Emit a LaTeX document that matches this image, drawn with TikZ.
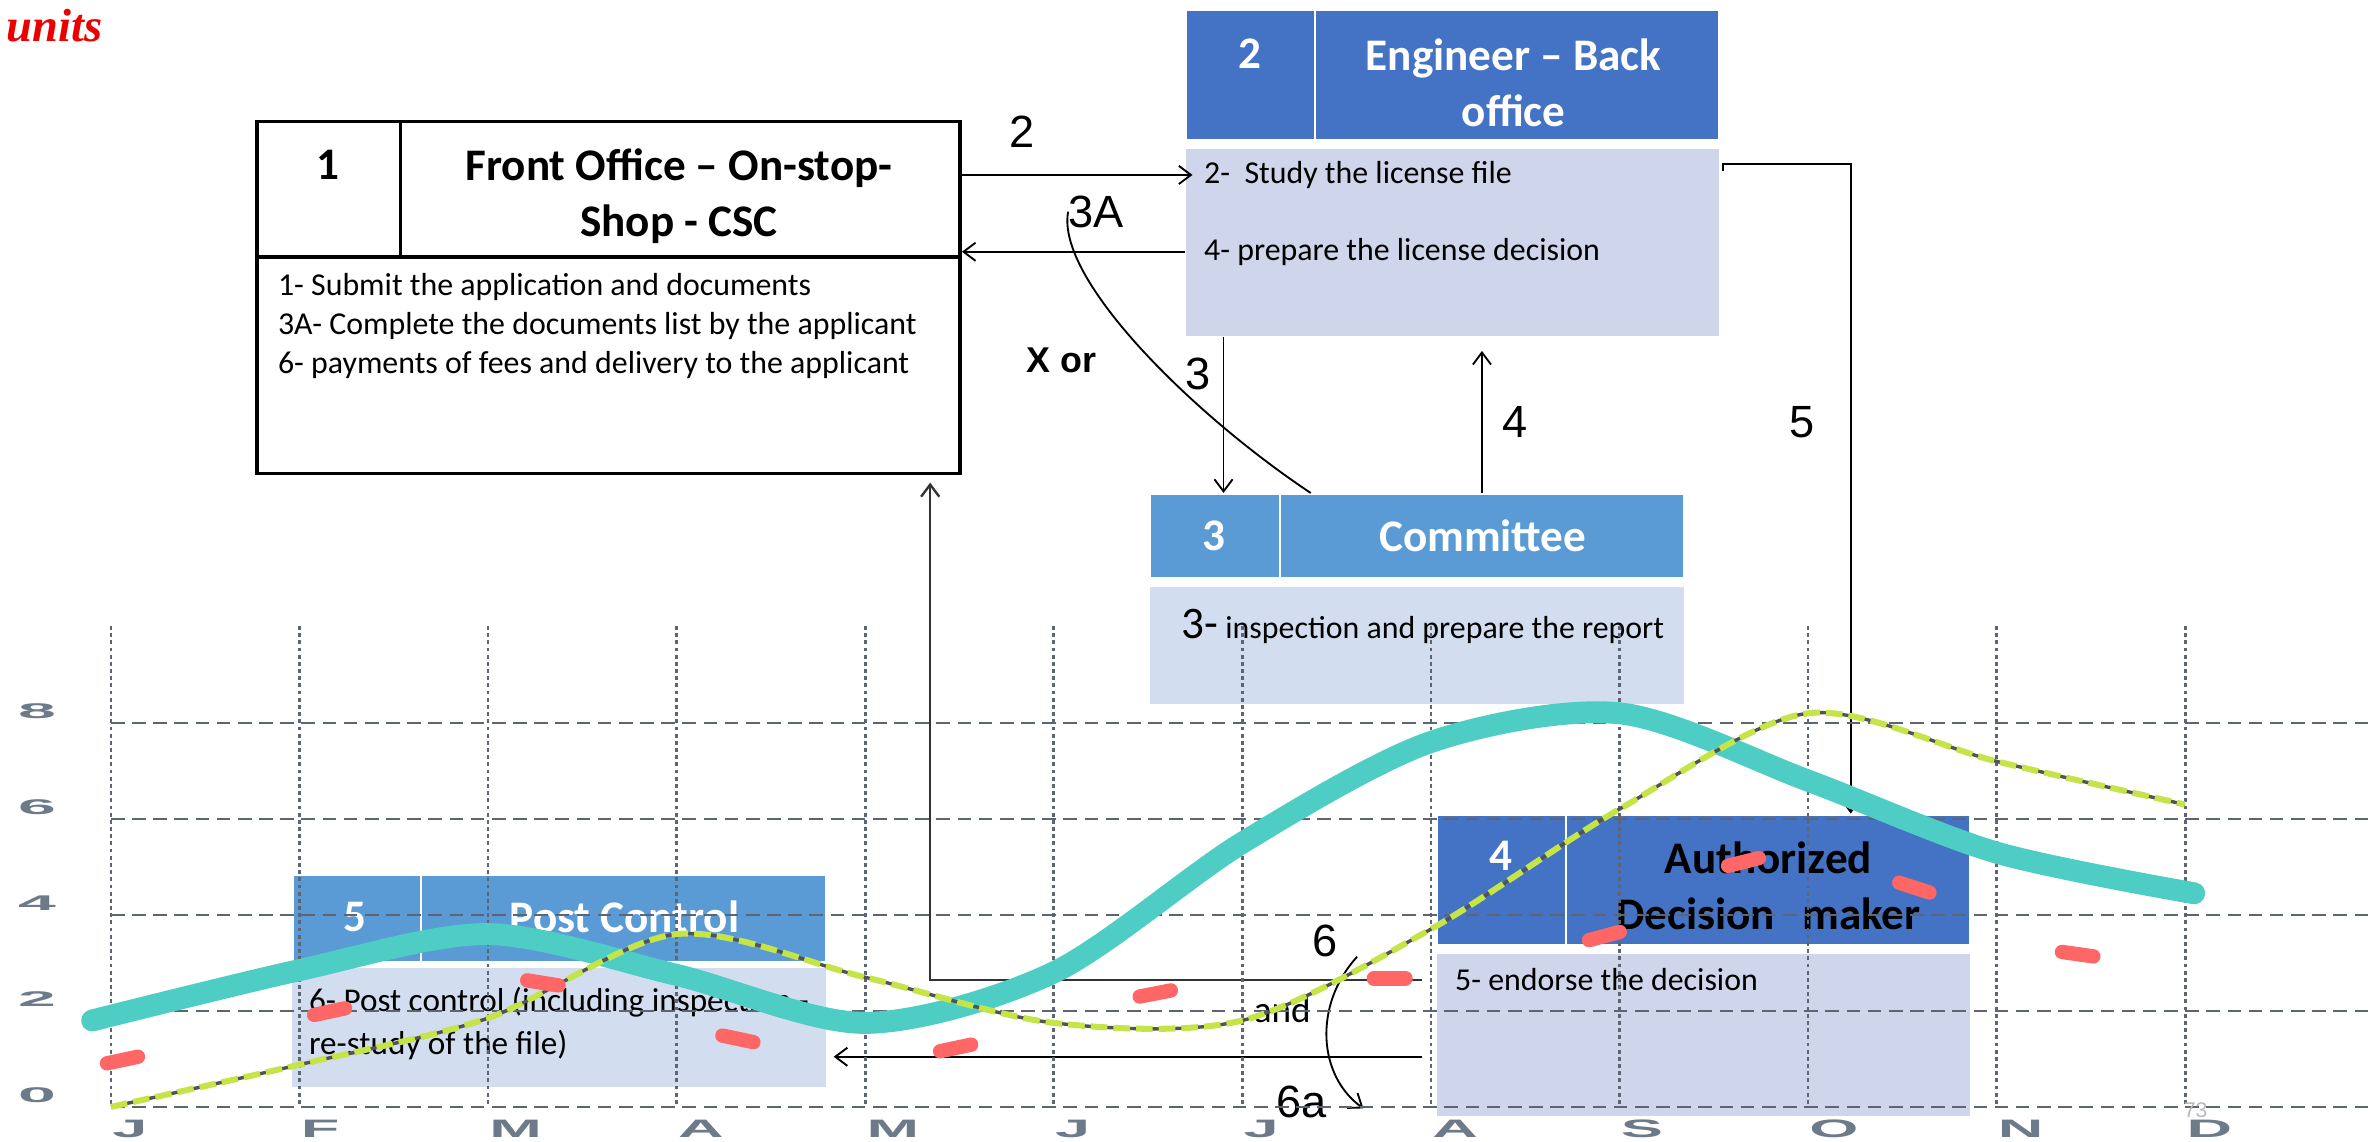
\documentclass[tikz,border=0pt]{standalone}
\usepackage{fontspec}
\setmainfont{Carlito}
\newfontfamily\arialfont{Liberation Sans}
\newfontfamily\timesfont{Liberation Serif}
\usepackage{tikz}
\usetikzlibrary{fit, arrows.meta}
\definecolor{hdark}{RGB}{68, 114, 196}
\definecolor{hmid}{RGB}{91, 155, 213}
\definecolor{bodylav}{RGB}{207, 213, 234}
\definecolor{paleblue}{RGB}{210, 222, 239}
\definecolor{tealband}{RGB}{78, 205, 196}
\definecolor{limeline}{RGB}{196, 228, 72}
\definecolor{gridgrey}{RGB}{92, 101, 113}
\definecolor{axisgrey}{RGB}{108, 122, 138}
\definecolor{redmark}{RGB}{255, 102, 102}
\definecolor{unitsred}{RGB}{235, 0, 0}

\begin{document}
\begin{tikzpicture}[x=0.02cm, y=-0.02cm,
  >={Straight Barb[length=1.6mm, width=2.4mm]},
  cell/.style={inner sep=0pt},
  darkcell/.style={cell, fill=hdark, draw=white, line width=0.8pt},
  midcell/.style={cell, fill=hmid, draw=white, line width=0.8pt},
  linecell/.style={cell, draw=black, line width=1.3pt},
  headtxt/.style={inner sep=0pt, align=center, text=white, font=\fontsize{17}{21}\selectfont\bfseries},
  bodytxt/.style={inner sep=0pt, anchor=west, align=left, font=\fontsize{12}{14.7}\selectfont},
  flow/.style={->, line width=0.7pt},
  flowlbl/.style={inner sep=0pt, font=\arialfont\fontsize{17}{17}\selectfont},
  axislbl/.style={inner sep=0pt, text=axisgrey, font=\arialfont\bfseries\fontsize{9.5}{9.5}\selectfont}]

  \useasboundingbox (0, 0) rectangle (1568, 755);

  \node[anchor=base west, inner sep=0pt, text=unitsred,
    font=\timesfont\bfseries\itshape\fontsize{17.5}{17.5}\selectfont] (units) at (4, 27.6) {units};

  % front office
  \node[linecell, fit={(170, 80.5) (265, 170)}] (fnum) {};
  \node[linecell, fit={(265, 80.5) (635, 170)}] (fhead) {};
  \node[linecell, fit={(170, 170) (635, 313)}] (fbody) {};
  \node[headtxt, text=black] (fnumtxt) at (217, 109) {1};
  \node[headtxt, text=black] (fheadtxt) at (449, 129.5) {Front Office \textendash{} On-stop-\\Shop - CSC};
  \node[bodytxt] (ftxt) at (183.5, 215.5) {1- Submit the application and documents\\3A- Complete the documents list by the applicant\\6- payments of fees and delivery to the applicant};

  % back office
  \node[darkcell, fit={(784, 6.6) (869.4, 92.6)}] (enum) {};
  \node[darkcell, fit={(869.4, 6.6) (1137, 92.6)}] (ehead) {};
  \node[cell, fill=bodylav, fit={(784, 98.5) (1137, 222.2)}] (ebody) {};
  \node[headtxt] (enumtxt) at (826.5, 35.3) {2};
  \node[headtxt] (eheadtxt) at (1001, 54.6) {Engineer \textendash{} Back\\office};
  \node[bodytxt] (study) at (796, 115.7) {2-\ \ Study the license file};
  \node[bodytxt] (prep) at (796, 166.5) {4- prepare the license decision};

  % committee
  \node[midcell, fit={(760.6, 326.7) (846.6, 382.5)}] (cnum) {};
  \node[midcell, fit={(846.6, 326.7) (1113.5, 382.5)}] (cname) {};
  \node[cell, fill=paleblue, fit={(760.6, 388) (1113.5, 465.3)}] (cbody) {};
  \node[headtxt] (cnumtxt) at (802.6, 354.6) {3};
  \node[headtxt] (cnametxt) at (980.6, 354.6) {Committee};
  \node[bodytxt] (inspect) at (781, 414) {{\fontsize{17}{17}\selectfont 3-} inspection and prepare the report};

  % decision maker
  \node[darkcell, fit={(950, 538.7) (1035.7, 625)}] (dnum) {};
  \node[darkcell, fit={(1035.7, 538.7) (1302.7, 625)}] (dname) {};
  \node[cell, fill=bodylav, fit={(950, 630.7) (1302.7, 738)}] (dbody) {};
  \node[headtxt] (dnumtxt) at (992.7, 566) {4};
  \node[headtxt, text=black] (dnametxt) at (1169.5, 585.9) {Authorized\\Decision\hspace{0.6em}maker};
  \node[bodytxt] (endorse) at (962, 648) {5- endorse the decision};

  % post control
  \node[midcell, fit={(193.4, 578.7) (278.5, 636)}] (pnum) {};
  \node[midcell, fit={(278.5, 578.7) (546, 636)}] (pname) {};
  \node[cell, fill=paleblue, fit={(193.4, 640) (546, 718.7)}] (pbody) {};
  \node[headtxt] (pnumtxt) at (234.8, 606.3) {5};
  \node[headtxt] (pnametxt) at (413, 606.3) {Post Control};
  \node[bodytxt, font=\fontsize{12.5}{16}\selectfont] (ptxt) at (204, 677) {6- Post control (including inspection -\\re-study of the file)};

  % flow
  \node[flowlbl] (lbl2) at (676, 87) {2};
  \node[flowlbl] (lbl3A) at (725, 140) {3A};
  \node[inner sep=0pt, font=\arialfont\bfseries\fontsize{13.5}{13.5}\selectfont] (lblxor) at (702, 238) {X or};
  \node[flowlbl] (lbl3) at (792, 247) {3};
  \node[flowlbl] (lbl4) at (1002, 279) {4};
  \node[flowlbl] (lbl5) at (1192, 279) {5};
  \node[flowlbl] (lbl6) at (876, 622) {6};
  \node[inner sep=0pt, font=\fontsize{14}{14}\selectfont] (lbland) at (848, 668) {and};
  \node[flowlbl] (lbl6a) at (861, 729) {6a};
  \coordinate (split6) at (897.5, 632.7);
  \coordinate (to6a) at (901.7, 733);

  \draw[flow, shorten >=-0.1cm] (fhead.east |- study.west) -- (ebody.west |- study.west);
  \draw[flow] (ebody.west |- prep.west) -- (fhead.east |- prep.west);
  \draw[line width=0.7pt] ([xshift=0.39cm]cnum.north east) .. controls (790, 275) and (698, 185) .. (lbl3A.west);
  \draw[flow] ([xshift=0.51cm]ebody.south west) -- ([xshift=0.51cm]ebody.south west |- cnum.north);
  \draw[flow, shorten >=0.19cm] (cname.north) -- (cname.north |- ebody.south);
  \draw[flow] ([xshift=0.04cm, yshift=0.05cm]ebody.east |- study.west) -- ++(0, -5)
    -| ([xshift=-1.59cm]dname.north east);
  \draw[flow, line width=0.9pt, draw=black!80, shorten <=0.18cm, shorten >=0.1cm]
    (dbody.west |- endorse.west) -| ([xshift=-0.42cm]fbody.south east);
  \draw[flow, shorten <=0.19cm, shorten >=0.1cm] ([yshift=-0.29cm]dbody.west) -- ([yshift=-0.29cm]dbody.west -| pbody.east);
  \draw[flow] (split6) .. controls (868, 665) and (872, 712) .. (to6a);

  % chart
  \foreach \i in {0,...,11}
    \draw[gridgrey, line width=1pt, dash pattern=on 0.05cm off 0.045cm]
      ({73.4 + 124.7*\i}, 414) -- ({73.4 + 124.7*\i}, 732);
  \foreach \v in {0,2,...,8}
    \draw[gridgrey, line width=0.9pt, dash pattern=on 0.18cm off 0.1cm]
      (73.4, {732 - 31.75*\v}) -- (1568, {732 - 31.75*\v});

  \node[inner sep=0pt, text=gray!55, font=\arialfont\fontsize{8}{8}\selectfont] (pageno) at (1452, 734) {73};
  \foreach \v in {0,2,...,8}
    \node[axislbl, xscale=3.2, font=\arialfont\bfseries\fontsize{8}{8}\selectfont] (y\v) at (24.5, {724.5 - 31.75*\v}) {\v};
  \foreach \m [count=\i from 0] in {J,F,M,A,M,J,J,A,S,O,N,D}
    \node[axislbl, xscale=2.5, anchor=west] (m\i) at ({73.4 + 124.7*\i}, 746.5) {\m};

  \begin{scope}[shift={(73.4, 732)}, x=2.494cm, y=0.635cm]
    \draw[tealband, line width=0.29cm, line cap=round] plot[smooth] coordinates
      {(-0.1, 1.8) (1, 2.85) (2, 3.6) (3, 2.75) (4, 1.75) (5, 2.8) (6, 5.5) (7, 7.6) (8, 8.2) (9, 6.8) (10, 5.3) (11.05, 4.45)};
    \draw[gray!65!black, line width=0.045cm] plot[smooth] coordinates
      {(0, 0) (1, 0.88) (2, 1.85) (3, 3.6) (4, 2.7) (5, 1.75) (6, 1.8) (7, 3.7) (8, 6.2) (9, 8.2) (10, 7.2) (11, 6.3)};
    \draw[limeline, line width=0.08cm, dash pattern=on 0.22cm off 0.08cm] plot[smooth] coordinates
      {(0, 0) (1, 0.88) (2, 1.85) (3, 3.6) (4, 2.7) (5, 1.75) (6, 1.8) (7, 3.7) (8, 6.2) (9, 8.2) (10, 7.2) (11, 6.3)};
  \end{scope}

  \foreach \x/\y/\a in {81/701/12, 218/669/12, 359/650/-9, 488/687/-12, 632/693/12, 764/657/11,
      919/647/0, 1061/619/15, 1153/570/14, 1266/587/-18, 1374/631/-8}
    \draw[redmark, line width=0.19cm, line cap=round]
      ({\x - 10.5*cos(\a)}, {\y + 10.5*sin(\a)}) -- ({\x + 10.5*cos(\a)}, {\y - 10.5*sin(\a)});

\end{tikzpicture}
\end{document}
